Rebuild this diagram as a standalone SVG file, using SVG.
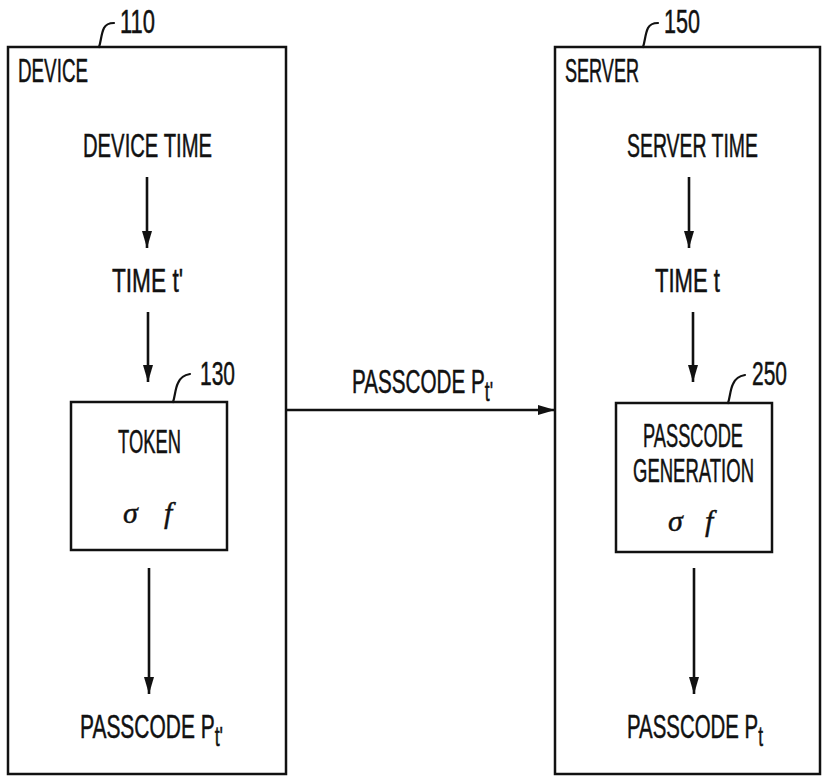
<svg xmlns="http://www.w3.org/2000/svg" width="822" height="776" viewBox="0 0 822 776">
  <style>
    .box { fill: none; stroke: #111; stroke-width: 2.5; }
    .lead { fill: none; stroke: #111; stroke-width: 2.2; stroke-linecap: round; }
    .arrow { fill: none; stroke: #111; stroke-width: 2.6; marker-end: url(#head); }
    .t { font-family: "Liberation Sans", Arial, sans-serif; font-size: 33px; fill: #111; stroke: #111; stroke-width: 0.5; }
    .s { font-size: 28px; }
    .greek { font-family: "Liberation Serif", "Times New Roman", serif; font-size: 30px; font-style: italic; fill: #111; stroke: #111; stroke-width: 0.4; }
  </style>
  <defs>
    <marker id="head" markerUnits="userSpaceOnUse" markerWidth="18" markerHeight="12" refX="17" refY="6" orient="auto">
      <path d="M0,1 L17,6 L0,11 Z" fill="#111"/>
    </marker>
  </defs>
  <rect width="822" height="776" fill="#fff"/>

  <!-- Device (110) -->
  <g id="device">
    <rect class="box" x="8" y="47" width="278" height="727"/>
    <path class="lead" d="M99,47 C101,42 101,34 104,28 C106,24 110,23 114,23"/>
    <text class="t" x="120" y="33" textLength="35" lengthAdjust="spacingAndGlyphs">110</text>
    <text class="t" x="18" y="82" textLength="70" lengthAdjust="spacingAndGlyphs">DEVICE</text>
  </g>
  <g id="device-time">
    <text class="t" x="83" y="157" textLength="129" lengthAdjust="spacingAndGlyphs">DEVICE  TIME</text>
  </g>
  <g id="time-t-prime">
    <text class="t" x="112" y="292" textLength="71" lengthAdjust="spacingAndGlyphs">TIME  t'</text>
  </g>
  <g id="token">
    <rect class="box" x="71" y="402" width="156" height="148"/>
    <path class="lead" d="M173,402 C175,397 175,389 178,383 C180,378 184,375 190,374"/>
    <text class="t" x="200" y="385" textLength="35" lengthAdjust="spacingAndGlyphs">130</text>
    <text class="t" x="118" y="453" textLength="63" lengthAdjust="spacingAndGlyphs">TOKEN</text>
    <text class="greek" x="123" y="523">σ</text>
    <text class="greek" x="164" y="523">f</text>
  </g>
  <g id="device-passcode">
    <text class="t" x="80" y="738" textLength="143" lengthAdjust="spacingAndGlyphs">PASSCODE  P<tspan class="s" dy="8">t'</tspan></text>
  </g>

  <!-- Server (150) -->
  <g id="server">
    <rect class="box" x="555" y="47" width="265" height="727"/>
    <path class="lead" d="M643,47 C645,42 645,34 648,28 C650,24 654,23 658,23"/>
    <text class="t" x="664" y="33" textLength="36" lengthAdjust="spacingAndGlyphs">150</text>
    <text class="t" x="565" y="82" textLength="74" lengthAdjust="spacingAndGlyphs">SERVER</text>
  </g>
  <g id="server-time">
    <text class="t" x="627" y="157" textLength="131" lengthAdjust="spacingAndGlyphs">SERVER  TIME</text>
  </g>
  <g id="time-t">
    <text class="t" x="655" y="292" textLength="65" lengthAdjust="spacingAndGlyphs">TIME  t</text>
  </g>
  <g id="passcode-generation">
    <rect class="box" x="616" y="403" width="156" height="149"/>
    <path class="lead" d="M728,403 C730,398 730,390 733,384 C735,379 739,376 745,375"/>
    <text class="t" x="752" y="385" textLength="35" lengthAdjust="spacingAndGlyphs">250</text>
    <text class="t" x="643" y="447" textLength="100" lengthAdjust="spacingAndGlyphs">PASSCODE</text>
    <text class="t" x="633" y="482" textLength="121" lengthAdjust="spacingAndGlyphs">GENERATION</text>
    <text class="greek" x="668" y="531">σ</text>
    <text class="greek" x="705" y="531">f</text>
  </g>
  <g id="server-passcode">
    <text class="t" x="627" y="738" textLength="136" lengthAdjust="spacingAndGlyphs">PASSCODE  P<tspan class="s" dy="8">t</tspan></text>
  </g>

  <!-- Connectors -->
  <g id="connectors">
    <line class="arrow" x1="147" y1="177" x2="147" y2="248"/>
    <line class="arrow" x1="148" y1="312" x2="148" y2="382"/>
    <line class="arrow" x1="149" y1="568" x2="149" y2="694"/>
    <line class="arrow" x1="689" y1="177" x2="689" y2="248"/>
    <line class="arrow" x1="693" y1="312" x2="693" y2="382"/>
    <line class="arrow" x1="694" y1="568" x2="694" y2="694"/>
    <line class="arrow" x1="286" y1="410" x2="555" y2="410"/>
    <text class="t" x="352" y="393" textLength="141" lengthAdjust="spacingAndGlyphs">PASSCODE  P<tspan class="s" dy="8">t'</tspan></text>
  </g>
</svg>
